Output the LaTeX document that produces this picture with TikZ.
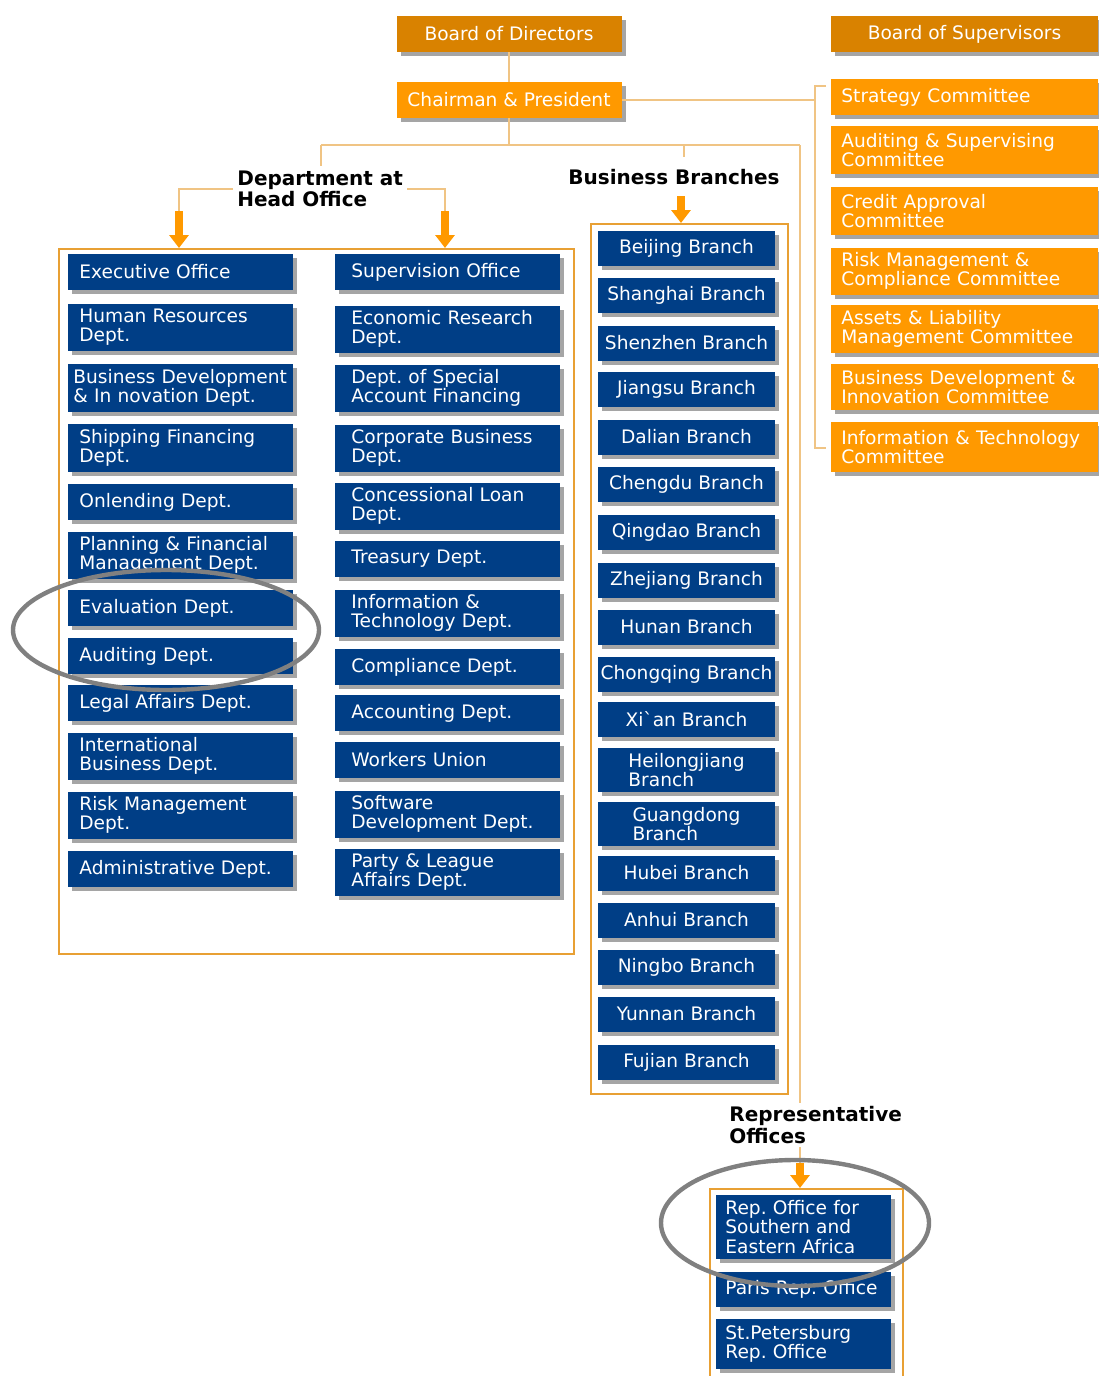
\documentclass[tikz,border=0pt]{standalone}
\usepackage{fontspec}
\setmainfont{DejaVu Sans}
\usetikzlibrary{arrows.meta}
\usetikzlibrary{shadows}

\definecolor{navy}{RGB}{0,62,134}
\definecolor{amber}{RGB}{255,153,0}
\definecolor{darkamber}{RGB}{217,130,0}
\definecolor{linktan}{RGB}{240,196,132}
\definecolor{rimcol}{RGB}{232,160,52}

\begin{document}
\frenchspacing
\begin{tikzpicture}[
    x=0.5pt,y=-0.5pt,
    boxshade/.style={drop shadow={shadow xshift=2pt,shadow yshift=-2pt,opacity=0.5,fill=black!70}},
    unit/.style={text=white,anchor=west,align=left,inner ysep=1pt,
    font=\fontsize{9.3}{9.8}\selectfont,boxshade},
    board/.style={unit,fill=darkamber,anchor=center,align=center,minimum width=112.5pt,minimum height=18pt,inner xsep=1pt},
    cmte/.style={unit,fill=amber,text width=123.5pt,inner xsep=5pt},
    dept/.style={unit,fill=navy,text width=101.5pt,inner xsep=5.5pt},
    deptb/.style={unit,fill=navy,text width=96.5pt,inner xsep=8pt},
    branch/.style={unit,fill=navy,anchor=center,align=center,minimum width=88.5pt,minimum height=17.5pt,inner xsep=1pt},
    rep/.style={unit,fill=navy,text width=78.5pt,inner xsep=4.5pt},
    link/.style={draw=linktan,line width=1.2pt},
    frame/.style={draw=rimcol,line width=0.8pt,inner sep=0pt,anchor=north west},
    feed/.style={draw=amber,line width=3.8pt,-{Triangle[width=9.5pt,length=6.5pt]}},
    heading/.style={font=\fontsize{10}{9.6}\selectfont\bfseries,align=left,inner sep=2pt},
    ring/.style={draw=black!50,line width=2.2pt}
    ]
    \useasboundingbox (0,0) rectangle (1098,1376);

    % group frames
    \node[frame,minimum width=257.5pt,minimum height=352.5pt] (hdframe) at (58,248) {};
    \node[frame,minimum width=98.5pt,minimum height=435pt] (brframe) at (590,223) {};
    \node[frame,minimum width=96.5pt,minimum height=96pt] (repframe) at (709,1188) {};

    % junctions
    \coordinate (hub) at (509,145);
    \coordinate (hdtop) at (321,145);
    \coordinate (hdstub) at (321,166);
    \coordinate (brtop) at (684,145);
    \coordinate (brstub) at (684,157);
    \coordinate (reptop) at (800,145);
    \coordinate (reparr) at (800,1163);
    \coordinate (brk) at (815,100);
    \coordinate (cmtop) at (826,86);
    \coordinate (cmbot) at (826,448);
    \coordinate (hdarrl) at (179,211);
    \coordinate (hdarrr) at (445,211);
    \coordinate (brarr) at (681,196);

    % top of the chart
    \node[board] (bod) at (509,34) {Board of Directors};
    \node[board,minimum width=133.5pt] (bos) at (964.5,34) {Board of Supervisors};
    \node[board,fill=amber] (chair) at (509,100) {Chairman \& President};
    \draw[link] (bod) -- (chair);
    \draw[link] (chair) -- (hub);
    \draw[link] (hdtop) -- (reptop);
    \draw[link] (hdtop) -- (hdstub);
    \draw[link] (brtop) -- (brstub);
    \draw[link] (reptop) -- (reparr);
    \draw[link] (chair) -- (brk);
    \draw[link] (cmtop) -| (brk) |- (cmbot);

    % committees
    \foreach \n/\y/\h/\t in {strategy/97/18/Strategy Committee,
        auditsup/150/24/Auditing \& Supervising\\Committee,
        credit/211/24/Credit Approval\\Committee,
        riskcomp/271/23.5/Risk Management \&\\Compliance Committee,
        alm/329/24/Assets \& Liability\\Management Committee,
        bdi/387/23/Business Development \&\\Innovation Committee,
        itc/447/25/Information \& Technology\\Committee} {
        \node[cmte,minimum height=\h pt] (\n) at (831,\y) {\t};
    }

    % departments at head office
    \node[heading,anchor=west] (hdlbl) at (233,189) {Department at\\Head Office};
    \draw[link] (hdlbl.west) -| (hdarrl);
    \draw[link] (hdlbl.east) -| (hdarrr);
    \draw[feed] (hdarrl) -- (hdarrl |- hdframe.north);
    \draw[feed] (hdarrr) -- (hdarrr |- hdframe.north);

    \foreach \n/\y/\h/\t in {exec/272/18/Executive Office,
        hr/327/23.5/Human Resources\\Dept.,
        bizdev/388/24/\hspace*{-3pt}\mbox{Business Development}\\\hspace*{-3pt}\& In novation Dept.,
        ship/448/24/Shipping Financing\\Dept.,
        onlend/502/18/Onlending Dept.,
        plan/555/23.5/Planning \& Financial\\Management Dept.,
        eval/608/18/Evaluation Dept.,
        audit/656/18/Auditing Dept.,
        legal/703/18/Legal Affairs Dept.,
        intl/756/23.5/International\\Business Dept.,
        risk/815/23.5/Risk Management\\Dept.,
        admin/869/18/Administrative Dept.} {
        \node[dept,minimum height=\h pt] (\n) at (68,\y) {\t};
    }
    \foreach \n/\y/\h/\t in {superv/272/18/Supervision Office,
        econ/329/23.5/Economic Research\\Dept.,
        special/388/23.5/Dept. of Special\\Account Financing,
        corp/448/23.5/Corporate Business\\Dept.,
        concess/506/23.5/Concessional Loan\\Dept.,
        treas/559/18/Treasury Dept.,
        infotech/613/23.5/Information \&\\Technology Dept.,
        compl/667/18/Compliance Dept.,
        acct/713/18/Accounting Dept.,
        union/760/18/Workers Union,
        soft/814/23.5/Software\\Development Dept.,
        party/872/23.5/Party \& League\\Affairs Dept.} {
        \node[deptb,minimum height=\h pt] (\n) at (335,\y) {\t};
    }

    % business branches
    \node[heading] (brlbl) at (674,177) {Business Branches};
    \draw[feed] (brarr) -- (brarr |- brframe.north);
    \foreach \n/\y/\t in {beijing/248/Beijing Branch,shanghai/295/Shanghai Branch,
        shenzhen/343/Shenzhen Branch,jiangsu/389/Jiangsu Branch,dalian/437/Dalian Branch,
        chengdu/484/Chengdu Branch,qingdao/532/Qingdao Branch,zhejiang/580/Zhejiang Branch,
        hunan/627/Hunan Branch,chongqing/674/Chongqing Branch,xian/719/Xi\textasciigrave an Branch,
        hubei/873/Hubei Branch,anhui/920/Anhui Branch,ningbo/967/Ningbo Branch,
        yunnan/1014/Yunnan Branch,fujian/1062/Fujian Branch} {
        \node[branch] (\n) at (686.5,\y) {\t};
    }
    \node[branch,align=left,minimum height=22pt] (heilong) at (686.5,770) {Heilongjiang\\Branch};
    \node[branch,align=left,minimum height=22pt] (guangdong) at (686.5,824) {Guangdong\\Branch};

    % representative offices
    \node[heading,anchor=west,fill=white] (replbl) at (725,1125) {Representative\\Offices};
    \draw[feed] (reparr) -- (reparr |- repframe.north);
    \foreach \n/\y/\h/\t in {safrica/1227/32/Rep. Office for\\Southern and\\Eastern Africa,
        paris/1289/17.5/Paris Rep. Office,
        petersburg/1344/25/St.Petersburg\\Rep. Office} {
        \node[rep,minimum height=\h pt] (\n) at (716,\y) {\t};
    }

    % highlight rings
    \draw[ring] (166,630) ellipse [x radius=76.5pt, y radius=30pt];
    \draw[ring] (795,1223) ellipse [x radius=67pt, y radius=31.5pt];
\end{tikzpicture}
\end{document}
